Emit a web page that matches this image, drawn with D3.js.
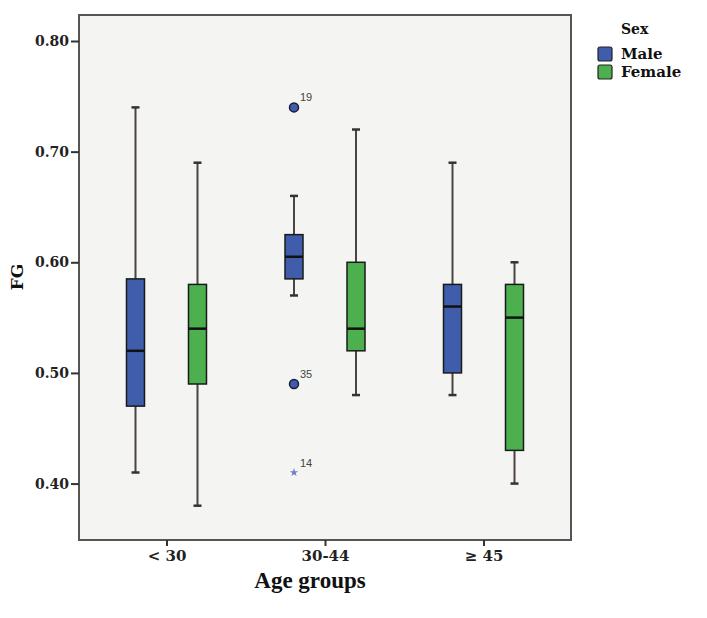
<!DOCTYPE html>
<html><head><meta charset="utf-8">
<script src="https://cdn.jsdelivr.net/npm/d3@7"></script>
<style>body{margin:0;background:#fff}</style>
</head><body>
<svg id="c" width="707" height="618"></svg>
<script>
const groups = ["<30", "30-44", "≥45"];
const groupLabels = ["< 30", "30-44", "≥ 45"];
const sexes = ["Male", "Female"];
const colors = ["#3f5dab", "#4cb04f"];
// [group, sex, lowerWhisker, q1, median, q3, upperWhisker]
const boxStats = [
  ["<30", "Male", 0.41, 0.47, 0.52, 0.585, 0.74],
  ["<30", "Female", 0.38, 0.49, 0.54, 0.58, 0.69],
  ["30-44", "Male", 0.57, 0.585, 0.605, 0.625, 0.66],
  ["30-44", "Female", 0.48, 0.52, 0.54, 0.60, 0.72],
  ["≥45", "Male", 0.48, 0.50, 0.56, 0.58, 0.69],
  ["≥45", "Female", 0.40, 0.43, 0.55, 0.58, 0.60]
];
// [group, sex, value, label, type]
const outliers = [
  ["30-44", "Male", 0.74, "19", "circle"],
  ["30-44", "Male", 0.49, "35", "circle"],
  ["30-44", "Male", 0.41, "14", "star"]
];
const yTicks = [0.40, 0.50, 0.60, 0.70, 0.80];

const svg = d3.select("#c");
const L = 79, R = 571, T = 15, B = 540;
const y = d3.scaleLinear().domain([0.349, 0.8235]).range([B, T]);
const x = d3.scalePoint().domain(groups).range([L, R]).padding(0.552);
const xs = d3.scalePoint().domain(sexes).range([-31, 31]);
const serif = "'DejaVu Serif', 'Liberation Serif', serif";

svg.append("rect").attr("x", L).attr("y", T).attr("width", R - L).attr("height", B - T)
  .attr("fill", "#f4f4f2").attr("stroke", "#555").attr("stroke-width", 2);

// y axis
const yAxis = svg.append("g").attr("transform", `translate(${L},0)`)
  .call(d3.axisLeft(y).tickValues(yTicks).tickFormat(d3.format(".2f")).tickSize(8).tickPadding(2));
yAxis.select(".domain").remove();
yAxis.selectAll("line").attr("stroke", "#333").attr("stroke-width", 2);
yAxis.selectAll("text").attr("font-family", serif).attr("font-weight", "bold")
  .attr("font-size", 14).attr("fill", "#222");

// x axis
const xAxis = svg.append("g").attr("transform", `translate(0,${B})`)
  .call(d3.axisBottom(x).tickSize(6).tickPadding(4).tickFormat((d, i) => groupLabels[i]));
xAxis.select(".domain").remove();
xAxis.selectAll("line").attr("stroke", "#333").attr("stroke-width", 2);
xAxis.selectAll("text").attr("font-family", serif).attr("font-weight", "bold")
  .attr("font-size", 15).attr("fill", "#222");

svg.append("text").attr("x", 310).attr("y", 588).attr("text-anchor", "middle")
  .attr("font-family", "'Liberation Serif', serif").attr("font-weight", "bold").attr("font-size", 23)
  .attr("fill", "#111").text("Age groups");
svg.append("text").attr("transform", "translate(23,277) rotate(-90)").attr("text-anchor", "middle")
  .attr("font-family", serif).attr("font-weight", "bold").attr("font-size", 17)
  .attr("fill", "#111").text("FG");

const bw = 18, cap = 8;
const g = svg.append("g");
boxStats.forEach(d => {
  const [grp, sex, lo, q1, med, q3, hi] = d;
  const cx = x(grp) + xs(sex);
  const col = colors[sexes.indexOf(sex)];
  g.append("line").attr("x1", cx).attr("x2", cx).attr("y1", y(hi)).attr("y2", y(lo))
    .attr("stroke", "#4a4444").attr("stroke-width", 2);
  [hi, lo].forEach(v => g.append("line").attr("x1", cx - cap / 2).attr("x2", cx + cap / 2)
    .attr("y1", y(v)).attr("y2", y(v)).attr("stroke", "#333").attr("stroke-width", 2.5));
  g.append("rect").attr("x", cx - bw / 2).attr("y", y(q3)).attr("width", bw)
    .attr("height", y(q1) - y(q3)).attr("fill", col).attr("stroke", "#1a1a1a").attr("stroke-width", 1.5);
  g.append("line").attr("x1", cx - bw / 2).attr("x2", cx + bw / 2).attr("y1", y(med)).attr("y2", y(med))
    .attr("stroke", "#111").attr("stroke-width", 2.5);
});

outliers.forEach(d => {
  const [grp, sex, v, lab, type] = d;
  const cx = x(grp) + xs(sex);
  if (type === "circle") {
    g.append("circle").attr("cx", cx).attr("cy", y(v)).attr("r", 4.5)
      .attr("fill", colors[0]).attr("stroke", "#1a1a3a").attr("stroke-width", 1.5);
  } else {
    g.append("path").attr("transform", `translate(${cx},${y(v)})`)
      .attr("d", d3.symbol(d3.symbolStar, 22)()).attr("fill", "#6a80c8");
  }
  g.append("text").attr("x", cx + 6).attr("y", y(v) - 6).attr("font-family", "'Liberation Sans', Arial, sans-serif")
    .attr("font-size", 11).attr("fill", "#444").text(lab);
});

// legend
const lg = svg.append("g");
lg.append("text").attr("x", 621).attr("y", 34).attr("font-family", serif).attr("font-weight", "bold")
  .attr("font-size", 14).attr("fill", "#111").text("Sex");
sexes.forEach((s, i) => {
  const yy = 47 + i * 18;
  lg.append("rect").attr("x", 598).attr("y", yy).attr("width", 14).attr("height", 14).attr("rx", 2)
    .attr("fill", colors[i]).attr("stroke", "#222").attr("stroke-width", 1.2);
  lg.append("text").attr("x", 621).attr("y", yy + 12).attr("font-family", serif).attr("font-weight", "bold")
    .attr("font-size", 15).attr("fill", "#111").text(s);
});
</script>
</body></html>
